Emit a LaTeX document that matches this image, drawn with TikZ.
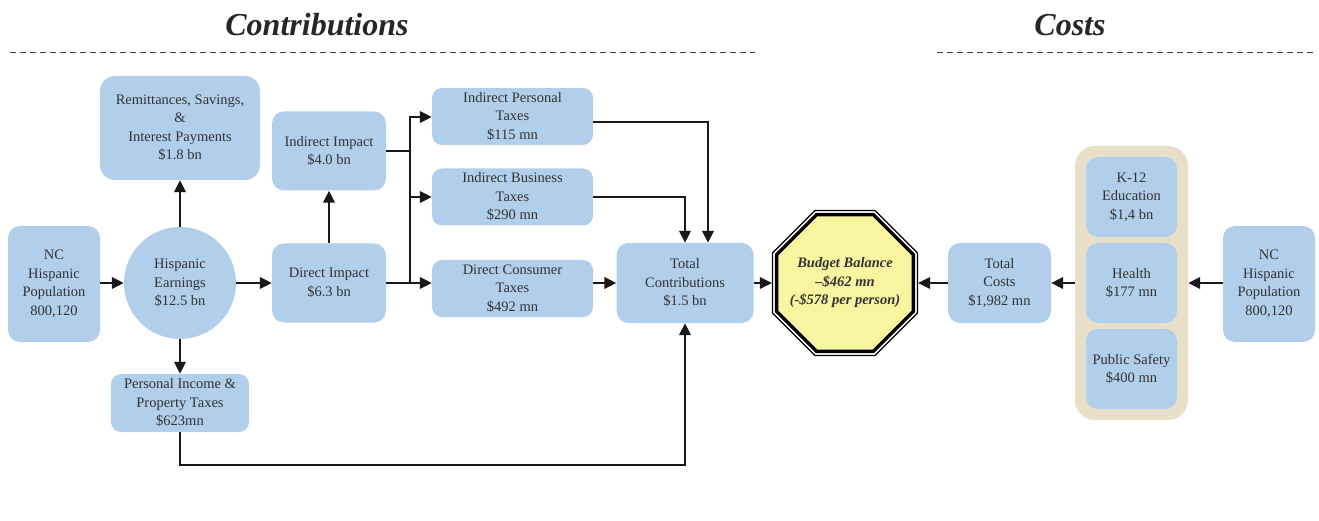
\documentclass[tikz,border=0pt]{standalone}
\usepackage{fontspec}
\setmainfont{Liberation Serif}
\usetikzlibrary{positioning,shapes.geometric,arrows.meta}

\definecolor{boxblue}{HTML}{B1CFEB}
\definecolor{grpbeige}{HTML}{E8DFC8}
\definecolor{balyellow}{HTML}{F8F4A0}
\definecolor{txtgray}{HTML}{333333}

\tikzset{
  box/.style={rectangle, rounded corners=12pt, fill=boxblue, text=txtgray, align=center,
    font=\fontsize{14.5}{18.5}\selectfont, inner sep=2pt},
  arr/.style={-{Triangle[length=12pt,width=11.5pt]}, line width=2pt, draw=black!90},
  link/.style={line width=2pt, draw=black!90},
  octa/.style={regular polygon, regular polygon sides=8, inner sep=0pt, draw=black},
  heading/.style={font=\fontsize{32}{36}\selectfont\bfseries\itshape, text=black!85},
  rule/.style={dashed, dash pattern=on 6pt off 4pt, line width=1pt, draw=black!75}
}

\begin{document}
\begin{tikzpicture}[x=1pt, y=-1pt]
    \useasboundingbox (0,0) rectangle (1319,521);

    % headings
    \node[heading] (hcon) at (317,25) {Contributions};
    \node[heading] (hcost) at (1070,25) {Costs};
    \draw[rule] (10,53) -- (755,53);
    \draw[rule] (937,53) -- (1315,53);

    % contributions side
    \node[box, minimum width=92pt, minimum height=116pt] (popl) at (54,284) {NC\\Hispanic\\Population\\800,120};
    \node[circle, fill=boxblue, text=txtgray, align=center, minimum size=112pt, inner sep=0pt,
      font=\fontsize{14.5}{18.5}\selectfont] (earn) at (180,283) {Hispanic\\Earnings\\\$12.5 bn};
    \node[box, rounded corners=15pt, minimum width=160pt, minimum height=104pt] (remit) at (180,128) {Remittances, Savings,\\\&\\Interest Payments\\\$1.8 bn};
    \node[box, rounded corners=10pt, minimum width=138pt, minimum height=58pt] (pitax) at (180,403) {Personal Income \&\\Property Taxes\\\$623mn};
    \node[box, minimum width=114pt, minimum height=79pt] (indimp) at (329,151) {Indirect Impact\\\$4.0 bn};
    \node[box, minimum width=114pt, minimum height=79pt] (dirimp) at (329,283) {Direct Impact\\\$6.3 bn};
    \node[box, rounded corners=10pt, minimum width=161pt, minimum height=57pt] (iptax) at (512.5,116.5) {Indirect Personal\\Taxes\\\$115 mn};
    \node[box, rounded corners=10pt, minimum width=161pt, minimum height=57pt] (ibtax) at (512.5,197) {Indirect Business\\Taxes\\\$290 mn};
    \node[box, rounded corners=10pt, minimum width=161pt, minimum height=57pt] (dctax) at (512.5,288.5) {Direct Consumer\\Taxes\\\$492 mn};
    \node[box, minimum width=137pt, minimum height=80pt] (totc) at (685,283) {Total\\Contributions\\\$1.5 bn};

    % budget balance
    \node[octa, minimum size=157pt, line width=1.2pt] (bbo) at (845,283) {};
    \node[octa, minimum size=148pt, line width=3.4pt, fill=balyellow] (bb) at (845,283) {};
    \node[align=center, text=txtgray, font=\fontsize{14.5}{18.5}\selectfont\bfseries\itshape] (bbtxt) at (bb)
      {Budget Balance\\--\$462 mn\\(-\$578 per person)};

    % costs side
    \node[box, minimum width=103pt, minimum height=80pt] (totcost) at (999.5,283) {Total\\Costs\\\$1,982 mn};
    \node[rectangle, rounded corners=20pt, fill=grpbeige, minimum width=113pt, minimum height=274pt] (grp) at (1131.5,283) {};
    \node[box, minimum width=91pt, minimum height=80pt] (k12) at (1131.5,197) {K-12\\Education\\\$1,4 bn};
    \node[box, minimum width=91pt, minimum height=80pt] (health) at (1131.5,283) {Health\\\$177 mn};
    \node[box, minimum width=91pt, minimum height=80pt] (psafe) at (1131.5,369) {Public Safety\\\$400 mn};
    \node[box, minimum width=92pt, minimum height=116pt] (popr) at (1269,284) {NC\\Hispanic\\Population\\800,120};

    % connectors
    \coordinate (jtop) at (410,117);
    \coordinate (jbot) at (410,283);
    \coordinate (pibot) at (180,465);

    \draw[arr] (popl.east |- earn) -- (earn);
    \draw[arr] (earn) -- (remit);
    \draw[arr] (earn) -- (pitax);
    \draw[arr] (earn) -- (dirimp);
    \draw[arr] (dirimp) -- (indimp);
    \draw[link] (indimp.east) -- (indimp.east -| jtop);
    \draw[link] (dirimp.east |- jbot) -- (jbot);
    \draw[link] ([yshift=1pt]jtop) -- ([yshift=-1pt]jbot);
    \draw[arr] (jtop) -- (jtop -| iptax.west);
    \draw[arr] (jtop |- ibtax.west) -- (ibtax.west);
    \draw[arr] (jbot) -- (jbot -| dctax.west);
    \draw[arr] ([yshift=-5.5pt]iptax.east) -| ([xshift=23pt]totc.north);
    \draw[arr] (ibtax.east) -| (totc.north);
    \draw[arr] (dctax.east |- totc.west) -- (totc.west);
    \draw[arr] (pitax.south) -- (pibot) -| (totc.south);
    \draw[arr] (totc) -- (bbo);
    \draw[arr] (totcost) -- (bbo);
    \draw[arr] (grp) -- (totcost);
    \draw[arr] (popr.west |- grp) -- (grp);
\end{tikzpicture}
\end{document}
